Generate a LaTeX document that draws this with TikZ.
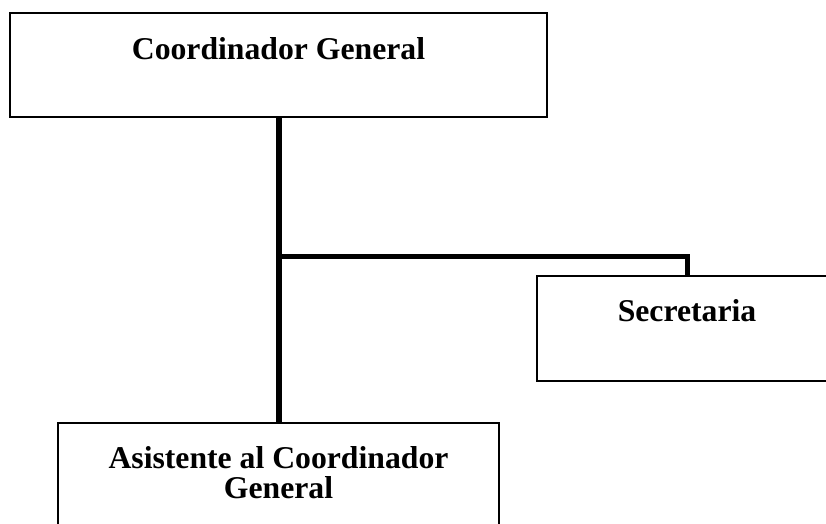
\documentclass[tikz,border=0pt]{standalone}
\usepackage{fontspec}
\setmainfont{Liberation Serif}
\begin{document}
\begin{tikzpicture}[x=1pt,y=-1pt,
  box/.style={draw=black,line width=2pt,minimum width=#1,inner sep=0pt,fill=white},
  lbl/.style={font=\fontsize{31.7}{30}\selectfont\bfseries,anchor=base,inner sep=0pt,align=center},
  conn/.style={line width=6pt,line join=miter}]
\useasboundingbox (0,0) rectangle (826,523);
\node[box=537pt,minimum height=104pt] (top) at (278.5,65) {};
\node[box=310pt,minimum height=105pt] (sec) at (692,328.5) {};
\node[box=441pt,minimum height=120pt] (bot) at (278.5,483) {};
\node[lbl] (ttop) at (278.5,59) {Coordinador General};
\node[lbl] (tsec) at (687,321) {Secretaria};
\node[lbl,anchor=base] (tbot1) at (278.5,468) {Asistente al Coordinador};
\node[lbl,anchor=base] (tbot2) at (278.5,498) {General};
\coordinate (j) at (279,256);
\coordinate (k) at (687,256);
\draw[conn] (j |- top.south) -- (j |- bot.north);
\draw[conn,line width=5pt] (j) -- (k) -- (k |- sec.north);
\end{tikzpicture}
\end{document}
